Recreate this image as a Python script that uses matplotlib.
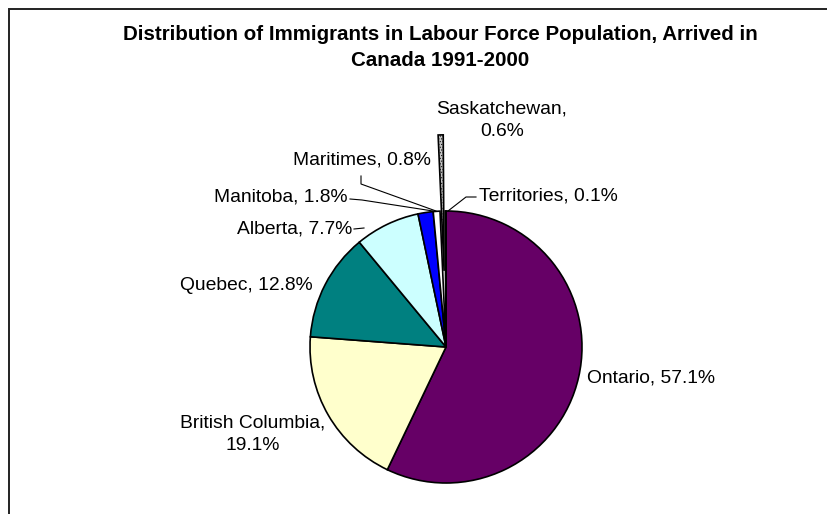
import matplotlib
matplotlib.use("Agg")
import matplotlib.pyplot as plt
from matplotlib.patches import Rectangle

# Labour-force immigrants (arrived 1991-2000) by region, percent
regions = ["Ontario", "British Columbia", "Quebec", "Alberta", "Manitoba",
           "Maritimes", "Saskatchewan", "Territories"]
shares = [57.1, 19.1, 12.8, 7.7, 1.8, 0.8, 0.6, 0.1]
colors = ["#660066", "#FFFFCC", "#008080", "#CCFFFF", "#0000FF",
          "#FFFFFF", "#C4C4C4", "#FFFFFF"]
explode = [0, 0, 0, 0, 0, 0, 0.56, 0]
title_lines = ["Distribution of Immigrants in Labour Force Population, Arrived in",
               "Canada 1991-2000"]

W, H = 827, 514
CX, CY, R = 446, 347, 136  # pie centre and radius in pixels (from top-left)
FONT = "Liberation Sans"

plt.rcParams["hatch.linewidth"] = 0.4
fig = plt.figure(figsize=(W / 100, H / 100), dpi=100)
ax = fig.add_axes([0, 0, 1, 1])


def P(x, y):
    """Pixel position (from top-left) -> data coordinates of the pie axes."""
    return ((x - CX) / R, (CY - y) / R)


wedges, _ = ax.pie(shares, colors=colors, startangle=90, counterclock=False,
                   explode=explode, radius=1, center=(0, 0),
                   wedgeprops=dict(edgecolor="black", linewidth=1.2))
wedges[6].set_hatch("......")
ax.set_xlim(-CX / R, (W - CX) / R)
ax.set_ylim((CY - H) / R, CY / R)
ax.set_aspect("auto")
ax.axis("off")

# chart frame
x0, y0 = P(9, 9)
x1, y1 = P(W + 20, H + 20)
ax.add_patch(Rectangle((x0, y1), x1 - x0, y0 - y1, fill=False,
                       edgecolor="#222222", linewidth=1.4, clip_on=False))

# title
for line, ypx in zip(title_lines, [34, 60]):
    ax.text(*P(440, ypx), line, ha="center", va="center", fontsize=14.8,
            fontweight="bold", family=FONT, color="black")

# data labels: lines, anchor pixel, horizontal alignment
lab = {r: f"{r}, {v}%" for r, v in zip(regions, shares)}
label_layout = {
    "Ontario": ([lab["Ontario"]], (587, 378), "left"),
    "British Columbia": (["British Columbia,", "19.1%"], (253, 423), "center"),
    "Quebec": ([lab["Quebec"]], (246, 286), "center"),
    "Alberta": ([lab["Alberta"]], (352, 229), "right"),
    "Manitoba": ([lab["Manitoba"]], (348, 197), "right"),
    "Maritimes": ([lab["Maritimes"]], (362, 160), "center"),
    "Saskatchewan": (["Saskatchewan,", "0.6%"], (502, 109), "center"),
    "Territories": ([lab["Territories"]], (479, 196), "left"),
}
for name, (lines, (lx, ly), ha) in label_layout.items():
    for i, line in enumerate(lines):
        ax.text(*P(lx, ly + i * 22), line, ha=ha, va="center",
                fontsize=13.9, family=FONT, color="black")

# leader lines
leaders = [
    [(354, 229), (364, 228)],
    [(350, 199), (362, 200), (433, 211)],
    [(361, 176), (361, 184), (436, 211)],
    [(476, 197), (466, 197), (448, 211)],
]
for pts in leaders:
    xs, ys = zip(*[P(x, y) for x, y in pts])
    ax.plot(xs, ys, color="black", linewidth=0.8)

fig.savefig("out.png", dpi=100)
